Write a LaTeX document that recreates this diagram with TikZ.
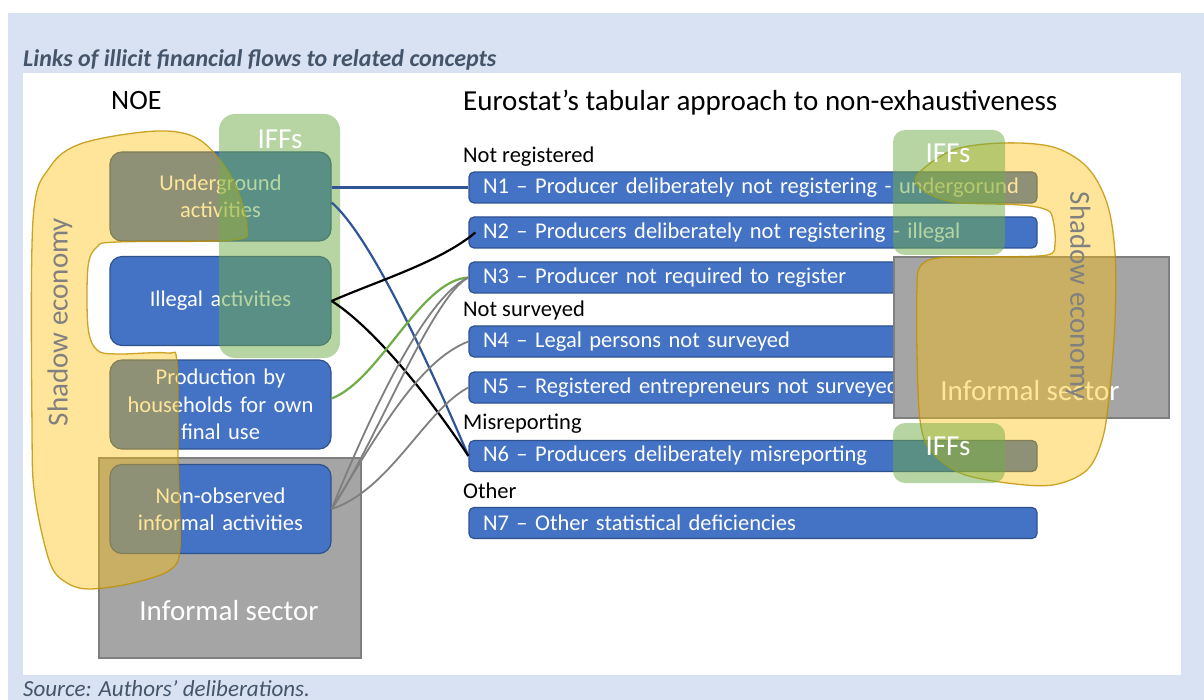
\documentclass[tikz,border=0pt]{standalone}
\usepackage{fontspec}
\setmainfont{Carlito}
\usetikzlibrary{positioning}
\definecolor{bgblue}{HTML}{D9E2F3}
\definecolor{titlegray}{HTML}{44546A}
\definecolor{boxblue}{HTML}{4472C4}
\definecolor{boxedge}{HTML}{2F528F}
\definecolor{infgray}{HTML}{A5A5A5}
\definecolor{infedge}{HTML}{7F7F7F}
\definecolor{iffgreen}{HTML}{70AD47}
\definecolor{shadowfill}{HTML}{FFC000}
\definecolor{shadowedge}{HTML}{BF9000}
\definecolor{linkblue}{HTML}{2F5597}
\newcommand{\fs}[1]{\fontsize{#1}{1.22\dimexpr#1pt\relax}\selectfont}
\begin{document}
\begin{tikzpicture}[x=1pt,y=-1pt,
    noebox/.style={draw=boxedge,line width=1.2pt,fill=boxblue,rounded corners=12pt,text=white,
      text width=200pt,inner xsep=10.5pt,minimum height=89pt,align=center,font=\fs{22.5}},
    nbox/.style={draw=boxedge,line width=1.2pt,fill=boxblue,rounded corners=5pt,text=white,
      text width=540pt,inner xsep=14pt,inner ysep=0pt,minimum height=31pt,align=left,font=\fs{22.5}},
    catlabel/.style={anchor=base west,inner sep=0pt,font=\fs{22.5}},
    infbox/.style={draw=infedge,line width=1.2pt,fill=infgray},
    ifflayer/.style={fill=iffgreen,fill opacity=0.5},
    shadowlayer/.style={fill=shadowfill,fill opacity=0.4,draw=shadowedge,draw opacity=0.8,line width=1.3pt},
    biglabel/.style={text=white,font=\fs{29}},
    shadowlabel/.style={text=black!50,font=\fs{29}},
    blueline/.style={draw=linkblue,line width=2.2pt},
    blackline/.style={draw=black,line width=2.2pt},
    greenline/.style={draw=iffgreen,line width=2.2pt},
    grayline/.style={draw=infedge,line width=1.8pt}]
  \useasboundingbox (0,0) rectangle (1204,700);
  \clip (0,0) rectangle (1204,700);
  % background
  \fill[bgblue] (8,13) rectangle (1204,700);
  \fill[white] (23,73) rectangle (1181,675);
  \node[anchor=base west,inner sep=0pt,text=titlegray,font=\fs{24}\bfseries\itshape] (title) at (23,67)
    {Links of illicit financial flows to related concepts};
  \node[anchor=base west,inner sep=0pt,text=titlegray,font=\fs{23}\itshape] (source) at (23,696)
    {Source: Authors’ deliberations.};
  \node[anchor=base west,inner sep=0pt,font=\fs{28}] (noe) at (111,110) {NOE};
  \node[anchor=base west,inner sep=0pt,font=\fs{29}] (euro) at (463,111)
    {Eurostat’s tabular approach to non-exhaustiveness};

  % left side
  \draw[infbox] (99,458) rectangle (361,658);
  \node[biglabel] (infl) at (229,611) {Informal sector};
  \node[noebox] (under) at (220.5,196.5) {Underground\\activities};
  \node[noebox] (illegal) at (220.5,301) {Illegal activities};
  \node[noebox] (household) at (220.5,404.5) {Production by\\households for own\\final use};
  \node[noebox] (nonobs) at (220.5,509) {Non-observed\\informal activities};

  % right side
  \node[catlabel] (notreg) at (463,163) {Not registered};
  \node[nbox] (n1) at (753,187.5) {N1 – Producer deliberately not registering - undergorund};
  \node[nbox] (n2) at (753,232.5) {N2 – Producers deliberately not registering - illegal};
  \node[nbox] (n3) at (753,277.5) {N3 – Producer not required to register};
  \node[catlabel] (notsurv) at (463,317) {Not surveyed};
  \node[nbox] (n4) at (753,341.5) {N4 – Legal persons not surveyed};
  \node[nbox] (n5) at (753,387.5) {N5 – Registered entrepreneurs not surveyed};
  \node[catlabel] (misrep) at (463,429) {Misreporting};
  \node[nbox] (n6) at (753,456) {N6 – Producers deliberately misreporting};
  \node[catlabel] (other) at (463,498) {Other};
  \node[nbox] (n7) at (753,523) {N7 – Other statistical deficiencies};
  \draw[infbox] (894,257) rectangle (1169,418);
  \node[biglabel] (infr) at (1030,391) {Informal sector};

  % shadow economy
  \draw[shadowlayer] plot[smooth cycle,tension=0.55] coordinates {(33,220) (50,167) (83,143) (157,131)
    (200,140) (233,180) (247,227) (233,240) (117,242) (97,247) (88,267) (88,327) (97,350) (117,354)
    (167,353) (177,363) (178,463) (180,547) (170,570) (133,583) (90,589) (67,583) (50,563) (35,497) (32,430)};
  \draw[shadowlayer] plot[smooth cycle,tension=0.55] coordinates {(917,175) (953,150) (1003,143)
    (1053,147) (1087,167) (1107,203) (1115,253) (1115,320) (1110,387) (1103,437) (1087,470) (1053,485)
    (1007,483) (960,473) (930,450) (920,420) (917,353) (917,287) (920,267) (937,258) (987,257)
    (1047,255) (1055,243) (1053,220) (1047,210) (1020,205) (953,202) (923,190)};
  \node[shadowlabel,rotate=90] (shadowl) at (60,322) {Shadow economy};
  \node[shadowlabel,rotate=-90] (shadowr) at (1078,296) {Shadow economy};

  % IFFs
  \fill[ifflayer,rounded corners=16pt] (219,114) rectangle (340,358);
  \node[biglabel] (iffl) at (280,139) {IFFs};
  \fill[ifflayer,rounded corners=12pt] (893,130) rectangle (1005,255);
  \node[biglabel] (iffr1) at (948,153) {IFFs};
  \fill[ifflayer,rounded corners=12pt] (893,423) rectangle (1005,483);
  \node[biglabel] (iffr2) at (948,446) {IFFs};

  % links
  \draw[blueline] (under.east |- n1.west) -- (n1.west);
  \draw[blueline] ([yshift=-6pt]under.east) .. controls (375,240) and (440,390) .. (n6.west);
  \draw[blackline] (illegal.east) .. controls (380,280) and (440,262) .. ([xshift=7pt]n2.west);
  \draw[blackline] (illegal.east) .. controls (370,325) and (425,390) .. (n6.west);
  \draw[greenline] ([yshift=6pt]household.east) .. controls (380,380) and (420,280) .. (n3.west);
  \draw[grayline] (nonobs.east) .. controls (360,440) and (420,300) .. (n3.west);
  \draw[grayline] (nonobs.east) .. controls (372,450) and (432,296) .. (n3.west);
  \draw[grayline] (nonobs.east) .. controls (380,430) and (420,360) .. (n4.west);
  \draw[grayline] (nonobs.east) .. controls (390,490) and (425,410) .. (n5.west);
\end{tikzpicture}
\end{document}
